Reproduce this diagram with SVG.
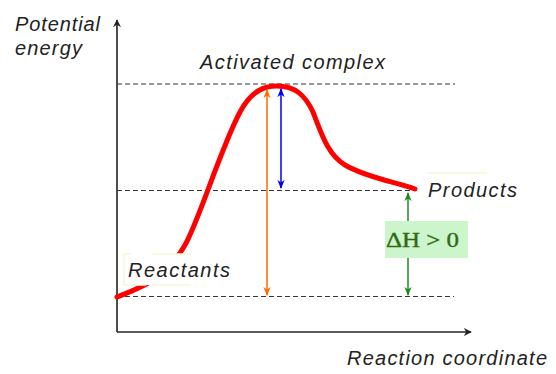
<svg xmlns="http://www.w3.org/2000/svg" width="556" height="374" viewBox="0 0 556 374">
<style>
.lbl{font-family:"Liberation Sans",Arial,sans-serif;font-style:italic;font-size:20px;fill:#222}
.dash{stroke:#333;stroke-width:1.2;stroke-dasharray:5 3;fill:none}
.axis{stroke:#222;stroke-width:1.6;fill:none}
</style>
<defs>
<marker id="ax" viewBox="0 0 10 10" refX="9" refY="5" markerWidth="8" markerHeight="8" markerUnits="userSpaceOnUse" orient="auto"><path d="M0,0 L10,5 L0,10 L3,5 Z" fill="#222"/></marker>
<marker id="ho" viewBox="0 0 10 10" refX="9" refY="5" markerWidth="9" markerHeight="9" markerUnits="userSpaceOnUse" orient="auto-start-reverse"><path d="M0,1 L10,5 L0,9 L3,5 Z" fill="#ff6a00"/></marker>
<marker id="hb" viewBox="0 0 10 10" refX="9" refY="5" markerWidth="9" markerHeight="9" markerUnits="userSpaceOnUse" orient="auto-start-reverse"><path d="M0,1 L10,5 L0,9 L3,5 Z" fill="#0000ee"/></marker>
<marker id="hg" viewBox="0 0 10 10" refX="9" refY="5" markerWidth="9" markerHeight="9" markerUnits="userSpaceOnUse" orient="auto-start-reverse"><path d="M0,1 L10,5 L0,9 L3,5 Z" fill="#1f8a1f"/></marker>
</defs>
<rect width="556" height="374" fill="#fff"/>
<g id="axes">
<path class="axis" d="M117,332 L117,20" marker-end="url(#ax)"/>
<path class="axis" d="M117,332 L471,332" marker-end="url(#ax)"/>
</g>
<g id="levels">
<path class="dash" d="M117,84 L455,84"/>
<path class="dash" d="M117,190.5 L412,190.5"/>
<path class="dash" d="M117,296.5 L454,296.5"/>
</g>
<g id="curve">
<path d="M117,297 C140,288 165,280 185,245 C200,218 220,150 240,112 C252,90 265,86 277,86 C295,86 305,95 313,112 C322,135 328,155 345,165 C365,177 395,182 415,189" fill="none" stroke="#ff0000" stroke-width="5" stroke-linecap="round"/>
</g>
<g id="connectors">
<path d="M267,90 L267,295" stroke="#ff6a00" stroke-width="1.5" fill="none" marker-start="url(#ho)" marker-end="url(#ho)"/>
<path d="M281,89 L281,188" stroke="#0000ee" stroke-width="1.5" fill="none" marker-start="url(#hb)" marker-end="url(#hb)"/>
<path d="M408,193 L408,295" stroke="#1f8a1f" stroke-width="1.5" fill="none" marker-start="url(#hg)" marker-end="url(#hg)"/>
</g>
<g id="reactants">
<rect x="124" y="254" width="107" height="31" fill="#fff"/>
<path d="M124,254 L131,254 M152,254 L191,254 M124,254 L124,285 M124,285 L146,285 M152,285 L191,285" stroke="#eefad6" stroke-width="1.5" fill="none"/>
<text class="lbl" x="128" y="277" textLength="102" lengthAdjust="spacing">Reactants</text>
</g>
<g id="activated-complex">
<text class="lbl" x="200" y="69" textLength="185" lengthAdjust="spacing">Activated complex</text>
</g>
<g id="products">
<path d="M428,173 L487,173" stroke="#eefad6" stroke-width="1.5"/>
<text class="lbl" x="428" y="197" textLength="89" lengthAdjust="spacing">Products</text>
</g>
<g id="delta-h">
<rect x="385" y="221" width="83" height="37" fill="#ccf5cc"/>
<text x="386" y="247" font-family="'Liberation Serif','Times New Roman',serif" font-size="22" fill="#2f6a10" stroke="#2f6a10" stroke-width="0.4" textLength="73" lengthAdjust="spacingAndGlyphs">ΔH &gt; 0</text>
</g>
<g id="y-label">
<text class="lbl" x="15" y="31" textLength="85" lengthAdjust="spacing">Potential</text>
<text class="lbl" x="15" y="55" textLength="67" lengthAdjust="spacing">energy</text>
</g>
<g id="x-label">
<text class="lbl" x="347" y="365" textLength="200" lengthAdjust="spacing">Reaction coordinate</text>
</g>
</svg>
